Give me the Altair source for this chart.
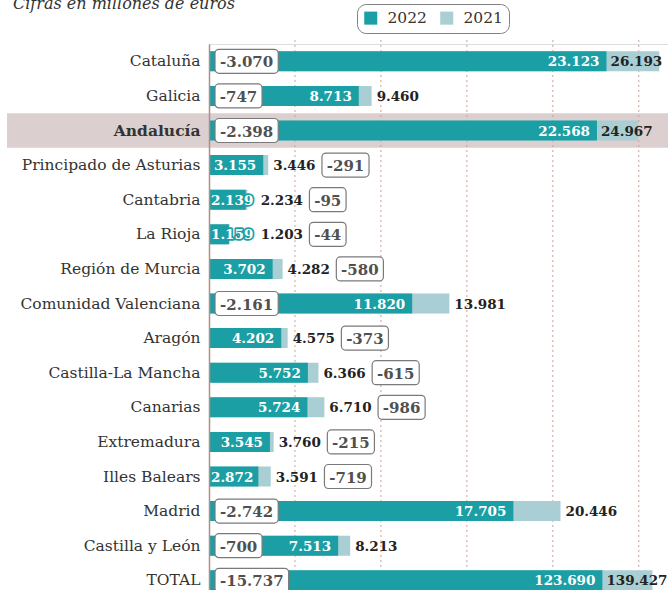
import altair as alt
import pandas as pd

# ---------------- data ----------------
regions = ["Cataluña", "Galicia", "Andalucía", "Principado de Asturias", "Cantabria",
           "La Rioja", "Región de Murcia", "Comunidad Valenciana", "Aragón",
           "Castilla-La Mancha", "Canarias", "Extremadura", "Illes Balears",
           "Madrid", "Castilla y León", "TOTAL"]
v2022 = [23123, 8713, 22568, 3155, 2139, 1159, 3702, 11820, 4202, 5752, 5724,
         3545, 2872, 17705, 7513, 123690]
v2021 = [26193, 9460, 24967, 3446, 2234, 1203, 4282, 13981, 4575, 6366, 6710,
         3760, 3591, 20446, 8213, 139427]
diffs = [-3070, -747, -2398, -291, -95, -44, -580, -2161, -373, -615, -986,
         -215, -719, -2742, -700, -15737]
grid_values = [5000, 10000, 15000, 20000, 25000]
years = ["2022", "2021"]
subtitle = "Cifras en millones de euros"
highlight = "Andalucía"
total_label = "TOTAL"

# ---------------- style / layout ----------------
TEAL = "#1b9fa4"
LIGHT = "#a9ced3"
BAND = "#dccfcf"
W = 459
H = 546
ROW = 34.6
XMAX = 26700
K = W / XMAX
TOTAL_FACTOR = 0.185   # the TOTAL row is drawn on a compressed scale
FS = 13.5
FSD = 15
FONT = "DejaVu Serif"

CW = {d: 0.696 for d in "0123456789"}
CW["."] = 0.38
CW["-"] = 0.45


def fmt(v):
    s = f"{abs(v):,}".replace(",", ".")
    return ("-" if v < 0 else "") + s


def tw(s, fs=FS):
    return sum(CW.get(c, 0.6) for c in s) * fs


rows = []
bars = []
for i, r in enumerate(regions):
    f = TOTAL_FACTOR if r == total_label else 1.0
    p22 = v2022[i] * f
    p21 = v2021[i] * f
    l22, l21, ld = fmt(v2022[i]), fmt(v2021[i]), fmt(diffs[i])
    end22 = p22 * K
    end21 = p21 * K
    short = end22 < tw(l22) + 8
    # 2021 label position (pixels)
    if end21 + 5 + tw(l21) > W:
        x21 = end22 + 4          # inside the light segment, right after the teal bar
    elif short:
        x21 = max(end21 + 5, 2 + tw(l22) + 7)
    else:
        x21 = end21 + 5
    bw = tw(ld, FSD) + 9
    if v2022[i] >= 7000:
        b0 = 6
    else:
        b0 = x21 + tw(l21) + 6
    b1 = b0 + bw
    rows.append(dict(region=r, p22=p22, l22=l22, l21=l21, ld=ld,
                     short=short, zero=0, x21=x21 / K,
                     b0=b0 / K, b1=b1 / K, bm=(b0 + b1) / 2 / K))
    bars.append(dict(region=r, year="2021", val=p21))
    bars.append(dict(region=r, year="2022", val=p22))

df = pd.DataFrame(rows)
dbars = pd.DataFrame(bars)
dgrid = pd.DataFrame({"g": grid_values})

xscale = alt.Scale(domain=[0, XMAX], range=[0, W], nice=False, zero=True)
yscale = alt.Scale(domain=regions, range=[0, len(regions) * ROW],
                   paddingInner=0, paddingOuter=0)
yaxis = alt.Axis(title=None, ticks=False, labelPadding=9, labelFont=FONT,
                 labelFontSize=15.5, labelColor="#333333", domainColor="#b48c82",
                 domainWidth=1.5, labelLimit=300, zindex=1,
                 labelFontWeight=alt.expr(f"datum.value === '{highlight}' ? 'bold' : 'normal'"))
Y = alt.Y("region:N", sort=regions, scale=yscale, axis=yaxis)

base = alt.Chart(df)

band = base.transform_filter(alt.datum.region == highlight).mark_rect(color=BAND).encode(
    y=Y, x=alt.value(-202), x2=alt.value(W + 10))

grid = alt.Chart(dgrid).mark_rule(strokeDash=[2, 3], color="#c9a39a", strokeWidth=1).encode(
    x=alt.X("g:Q", scale=xscale, axis=None), y=alt.value(-4), y2=alt.value(H + 20))

barl = alt.Chart(dbars).mark_bar(size=20).encode(
    x=alt.X("val:Q", scale=xscale, stack=None, axis=None),
    y=Y,
    color=alt.Color("year:N", scale=alt.Scale(domain=years, range=[TEAL, LIGHT]),
                    legend=alt.Legend(title=None, orient="none", legendX=148, legendY=-40,
                                      direction="horizontal", symbolType="square",
                                      symbolSize=170, symbolStrokeWidth=0,
                                      labelFont=FONT, labelFontSize=15.5,
                                      labelColor="#333333", strokeColor="#808080",
                                      cornerRadius=9, padding=6, columnPadding=12,
                                      labelOffset=9, fillColor="white")))

txt = dict(font=FONT, fontSize=FS, fontWeight="bold", baseline="middle", dy=1)

lab22 = base.transform_filter("!datum.short").mark_text(align="right", dx=-7, color="white", **txt).encode(
    x=alt.X("p22:Q", scale=xscale), y=Y, text="l22:N")
lab22h = base.transform_filter("datum.short").mark_text(
    align="left", dx=2, color=TEAL, stroke=TEAL, strokeWidth=3.5, strokeJoin="round", **txt).encode(
    x=alt.X("zero:Q", scale=xscale), y=Y, text="l22:N")
lab22s = base.transform_filter("datum.short").mark_text(align="left", dx=2, color="white", **txt).encode(
    x=alt.X("zero:Q", scale=xscale), y=Y, text="l22:N")
lab21 = base.mark_text(align="left", color="#222222", **txt).encode(
    x=alt.X("x21:Q", scale=xscale), y=Y, text="l21:N")

boxes = base.mark_bar(size=24, fill="white", stroke="#7a7a7a", strokeWidth=1.2, cornerRadius=4).encode(
    x=alt.X("b0:Q", scale=xscale), x2="b1:Q", y=Y)
dtext = base.mark_text(align="center", color="#505050", font=FONT, fontSize=FSD,
                       fontWeight="bold", baseline="middle", dy=1).encode(
    x=alt.X("bm:Q", scale=xscale), y=Y, text="ld:N")

sub = alt.Chart(pd.DataFrame({"t": [subtitle]})).mark_text(
    align="left", baseline="alphabetic", font=FONT, fontSize=16, fontStyle="italic",
    color="#333333").encode(x=alt.value(-196), y=alt.value(-35), text="t:N")

chart = alt.layer(band, grid, barl, lab22, lab22h, lab22s, lab21, boxes, dtext, sub).properties(
    width=W, height=H,
    autosize=alt.AutoSizeParams(type="none"),
    padding={"left": 209, "top": 44, "right": 0, "bottom": 0},
).configure_view(stroke=None).configure(background="white")

chart.save("out.html", embed_options={"renderer": "svg", "actions": False})
